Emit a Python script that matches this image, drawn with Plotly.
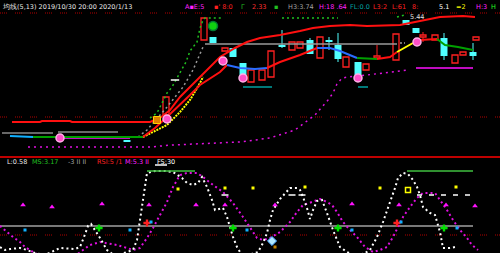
import plotly.graph_objects as go

# ================= TOP PANEL (price) =================
upper_x = [12, 40, 42, 70, 72, 150, 160, 170, 180, 190, 200, 210, 220, 235, 247, 260, 280, 300, 313, 330, 350, 367, 400, 410, 425, 440, 463, 475]
upper_v = [35, 35, 36, 36, 35, 35, 39, 47, 60, 70, 80, 91, 100, 109, 115, 119, 122, 126, 129, 131, 132, 131, 132, 134, 137, 140, 141, 140]

ma_x = [10, 33, 143, 155, 167, 180, 190, 200, 213, 220, 227, 240, 255, 267, 280, 300, 317, 330, 340, 357, 377, 390, 397, 413, 420, 437, 445, 458, 473]
ma_v = [21, 20, 20, 29, 40, 52, 62, 72, 80, 85, 92, 89, 88, 89, 95, 102, 109, 109, 106, 99, 98, 100, 105, 114, 117, 118, 112, 110, 107]
ma_breaks = [10, 33, 143, 227, 267, 317, 357, 377, 397, 413, 437, 473]
ma_colors = ["#10b0ff", "#00a000", "#ff1010", "#2a6cff", "#ff1010", "#2a6cff", "#00a000", "#ff1010", "#ffff00", "#ff1010", "#00a000"]

fast_x = [143, 155, 167, 180, 190, 200, 203]
fast_v = [20, 26, 32, 45, 57, 74, 80]

gray_rise_x = [138, 147, 167, 183, 193, 203]
gray_rise_v = [20, 27, 50, 70, 87, 110]
gray_flat_x = [205, 397]
gray_flat_v = [113, 113]
gray_end_x = [400, 405]
gray_end_v = [114, 114]
gray_left_x = [2, 53, None, 58, 118]
gray_left_v = [24, 24, None, 25, 25]

green_dot_x = [150, 157, 162, 167, 172, 177, 182, 186, 190, 197, 200, 203, 205, 223, None, 282, 338, None, 397, 405]
green_dot_v = [39, 44, 54, 64, 70, 79, 89, 95, 106, 115, 129, 137, 139, 139, None, 139, 139, None, 140, 142]

mag_line_x = [60, 130, None, 416, 473]
mag_line_v = [19, 19, None, 89, 89]
mag_dot_x = [28, 150, 172, 210, 240, 270, 295, 315, 328, 333, 337, 342, 348, 367, 393, 407]
mag_dot_v = [10, 10, 12, 14, 15, 19, 27, 42, 57, 64, 73, 79, 80, 82, 85, 87]

teal_x = [243, 272, None, 358, 368]
teal_v = [70, 70, None, 70, 70]

# down (cyan) candles
dn_x = [127, 213, 233, 243, 282, 310, 329, 338, 358, 406, 416, 444, 473]
dn_open = [17, 120, 109, 94, 112, 117, 117, 112, 95, 137, 129, 119, 105]
dn_close = [15, 114, 100, 80, 110, 103, 115, 98, 82, 132, 124, 101, 101]
dn_high = [17, 120, 109, 94, 127, 119, 120, 124, 95, 137, 129, 124, 114]
dn_low = [15, 114, 100, 80, 109, 103, 107, 95, 82, 132, 124, 97, 97]

# up (red hollow) candles
up_x = [166, 204, 225, 251, 262, 271, 292, 300, 320, 346, 366, 377, 396, 423, 435, 455, 463, 476]
up_open = [42, 117, 106, 75, 77, 80, 107, 109, 99, 90, 87, 99, 97, 120, 117, 94, 102, 117]
up_close = [60, 139, 109, 87, 87, 106, 115, 115, 120, 100, 93, 101, 123, 122, 122, 102, 105, 120]
up_high = [60, 139, 109, 87, 87, 106, 115, 115, 120, 100, 93, 112, 123, 125, 122, 102, 105, 120]
up_low = [42, 117, 106, 75, 77, 80, 107, 109, 99, 90, 87, 99, 97, 115, 117, 94, 102, 117]

pink_x = [60, 167, 223, 243, 358, 417]
pink_v = [19, 38, 96, 79, 79, 115]

# ================= BOTTOM PANEL (oscillator) =================
osc_w_x = [0, 5, 10, 20, 27, 35, 45, 60, 75, 80, 84, 88, 91, 95, 100, 107, 115, 133, 137, 140,
           143, 145, 147, 155, 165, 173, 182, 187, 193, 198, 202, 207, 212, 215, 220, 223, 227, 230, 233, 237,
           240, 245, 258, 263, 267, 270, 273, 280, 285, 290, 297, 300, 303, 307, 310, 313, 317, 322, 327, 333,
           340, 347, 355, 365, 370, 377, 383, 390, 395, 398, 403, 408, 413, 417, 420, 423, 430, 435, 440, 443,
           450, 455]
osc_w_v = [6, 3, 4, 5, 3, 0, -2, 5, 4, 6, 16, 27, 29, 23, 15, 3, -3, 3, 13, 33,
           53, 66, 80, 82, 82, 81, 75, 70, 68, 70, 76, 66, 53, 43, 44, 45, 36, 26, 16, 6,
           1, -3, 1, 10, 20, 33, 43, 54, 60, 65, 65, 63, 56, 45, 34, 43, 52, 53, 40, 23,
           6, 1, -3, 0, 3, 16, 31, 50, 65, 75, 80, 79, 73, 66, 58, 46, 40, 38, 21, 5,
           5, 6]

osc_m_x = [0, 7, 13, 20, 25, 33, 45, 60, 75, 83, 90, 100, 107, 117, 127, 133, 140, 147, 153, 160,
           167, 173, 180, 187, 197, 203, 213, 223, 233, 243, 250, 257, 263, 270, 280, 290, 297, 303, 312, 320,
           327, 332, 337, 343, 350, 357, 365, 373, 380, 387, 393, 398, 403, 410, 417, 423, 435, 440, 447, 453,
           460, 467, 472, 478]
osc_m_v = [27, 21, 16, 11, 6, 1, -5, -7, -3, 3, 8, 11, 10, 8, 5, 3, 5, 15, 25, 38,
           51, 66, 78, 80, 80, 76, 68, 61, 50, 36, 25, 15, 13, 15, 21, 31, 41, 48, 51, 54,
           51, 48, 41, 31, 23, 16, 6, 1, 3, 6, 16, 26, 36, 46, 55, 60, 60, 53, 43, 33,
           23, 15, 8, 3]

osc_mid_level = 27
osc_low_level = 18
green_top_x = [147, 195, None, 407, 473]
green_top_v = [82, 82, None, 82, 82]
white_dash_x = [417, 477]
white_dash_v = [58, 58]
white_tick_x = [225, 292, 302]
white_tick_v = [58, 58, 58]
white_short_x = [155, 167]
white_short_v = [88, 88]

gcross_x = [99, 233, 338, 444]
gcross_v = [25, 25, 25, 25]
rcross_x = [147, 397]
rcross_v = [30, 30]
cyan_pt_x = [25, 130, 151, 247, 352, 401, 457]
cyan_pt_v = [23, 23, 31, 23, 23, 31, 25]
mag_glyph_x = [23, 52, 102, 149, 196, 225, 275, 352, 399, 446, 475]
mag_glyph_v = [48, 46, 49, 48, 48, 48, 48, 49, 48, 48, 47]
yel_glyph_x = [178, 225, 253, 305, 380, 456]
yel_glyph_v = [64, 65, 65, 66, 65, 66]
yel_box_x = [408]
yel_box_v = [63]

DOTRED = "1px,1px,1px,1px,1px,1px,1px,8px"

fig = go.Figure()


def line(x, y, color, width=1.5, dash=None, ax="y", shape="linear"):
    fig.add_trace(go.Scatter(x=x, y=y, mode="lines", yaxis=ax, hoverinfo="skip",
                             line=dict(color=color, width=width, dash=dash, shape=shape)))


def pts(x, y, color, symbol="circle", size=5, ax="y", lc=None, lw=0):
    fig.add_trace(go.Scatter(x=x, y=y, mode="markers", yaxis=ax, hoverinfo="skip",
                             marker=dict(color=color, symbol=symbol, size=size,
                                         line=dict(color=lc or color, width=lw))))


# grid-like dark red dotted levels
line([0, 500], [144, 144], "#b00000", 1, DOTRED)
line([0, 500], [40, 40], "#b00000", 1, DOTRED)
line([0, 500], [osc_low_level, osc_low_level], "#b00000", 1, DOTRED, ax="y2")

# candles: wicks
wx, wy = [], []
for x, o, c, h, l in zip(up_x + dn_x, up_open + dn_open, up_close + dn_close, up_high + dn_high, up_low + dn_low):
    top, bot = max(o, c), min(o, c)
    wx += [x, x, None, x, x, None]
    wy += [h, top, None, bot, l, None]
line(wx[:len(up_x) * 6], wy[:len(up_x) * 6], "#ff2020", 1)
line(wx[len(up_x) * 6:], wy[len(up_x) * 6:], "#50ffff", 1)
# candle bodies
fig.add_trace(go.Bar(x=up_x, y=[c - o for o, c in zip(up_open, up_close)], base=up_open, width=6,
                     marker=dict(color="black", line=dict(color="#ff2020", width=1.3)), hoverinfo="skip"))
fig.add_trace(go.Bar(x=dn_x, y=[c - o for o, c in zip(dn_open, dn_close)], base=dn_open, width=7,
                     marker=dict(color="#50ffff", line=dict(color="#50ffff", width=0)), hoverinfo="skip"))

# gray lines
line(gray_left_x, gray_left_v, "#8a8a8a", 1.5)
line(gray_rise_x, gray_rise_v, "#9a9a9a", 1.5, "2px,3px")
line(gray_flat_x, gray_flat_v, "#9a9a9a", 1.5)
line(gray_end_x, gray_end_v, "#9a9a9a", 1.5, "2px,2px")
# green dotted
line(green_dot_x, green_dot_v, "#20c020", 1.5, "2px,3px")
# magenta
line(mag_line_x, mag_line_v, "#ff10ff", 1.5)
line(mag_dot_x, mag_dot_v, "#e010e0", 1.5, "2px,4px")
# teal
line(teal_x, teal_v, "#00a0a0", 1.5)
# upper band
line(upper_x, upper_v, "#ff1010", 2)
# fast MA (yellow dotted)
line(fast_x, fast_v, "#ffff00", 2, "2px,1px")
# multi-colour MA
for i, col in enumerate(ma_colors):
    a, b = ma_breaks[i], ma_breaks[i + 1]
    sx = [x for x in ma_x if a <= x <= b]
    sy = [v for x, v in zip(ma_x, ma_v) if a <= x <= b]
    line(sx, sy, col, 2)

# markers
pts(pink_x, pink_v, "#ff50c8", "circle", 8, lc="#ffb0e8", lw=1.5)
pts([157], [37], "#e08000", "square", 7, lc="#ffd000", lw=1)
pts([213], [131], "#10d010", "circle", 9, lc="#007a30", lw=1.5)
pts([175], [77], "white", "line-ew", 6, lw=1.5)

# bottom panel
line([0, 473], [osc_mid_level, osc_mid_level], "#a0a0a0", 1.5, ax="y2")
line(osc_m_x, osc_m_v, "#e010e0", 2, "2px,3px", ax="y2")
line(osc_w_x, osc_w_v, "#ffffff", 2, "2px,3px", ax="y2")
line(green_top_x, green_top_v, "#40c040", 1.5, ax="y2")
line(white_dash_x, white_dash_v, "#ffffff", 1.5, "5px,7px", ax="y2")
line(white_short_x, white_short_v, "#ffffff", 1.5, ax="y2")
pts(white_tick_x, white_tick_v, "white", "line-ew", 5, ax="y2", lw=1.5)
pts(gcross_x, gcross_v, "#00e000", "cross", 6, ax="y2")
pts(rcross_x, rcross_v, "#ff2020", "cross", 6, ax="y2")
pts(cyan_pt_x, cyan_pt_v, "#10b0ff", "square", 3, ax="y2")
pts(mag_glyph_x, mag_glyph_v, "#ff10ff", "triangle-up", 5, ax="y2")
pts(yel_glyph_x, yel_glyph_v, "#ffff00", "square", 3, ax="y2")
pts(yel_box_x, yel_box_v, "#ffff00", "square-open", 5, ax="y2", lw=1.5)
pts([272], [12], "#b0e8ff", "diamond", 7, ax="y2", lc="#40a0ff", lw=1)
pts([275], [6], "#c08000", "square", 3, ax="y2")

# ---------- texts ----------
H = 253.0
top_row = [
    (0, "#e8e8e8", "均线(5,13) 2019/10/30 20:00 2020/1/13"),
    (183, "#ff20ff", "A▪E:5"),
    (212, "#ff2020", "▪' 8:0"),
    (239, "#20c020", "Γ"),
    (250, "#ff3030", "2.33"),
    (272, "#20c020", "▪"),
    (286, "#a0a0a0", "H3:3.74"),
    (317, "#ff20ff", "H:18 .64"),
    (348, "#00a0a0", "FL:0.0"),
    (371, "#ff2020", "L3:2"),
    (390, "#ff2020", "L:61"),
    (410, "#ff2020", "8:"),
    (437, "#ffffff", "5.1"),
    (454, "#ffff00", "=2"),
    (474, "#ff20ff", "H:3"),
    (489, "#20ff20", "H"),
]
low_row = [
    (5, "#e8e8e8", "L:0.58"),
    (30, "#20c020", "MS:3.17"),
    (66, "#a0a0a0", "-3 II II"),
    (95, "#ff2020", "RSI:5 /1"),
    (123, "#ff20ff", "M:5.3 II"),
    (155, "#ffffff", "FS:30"),
]
ann = []
for x, c, t in top_row:
    ann.append(dict(x=x, y=1 - 7 / H, xref="x", yref="paper", text=t, showarrow=False,
                    xanchor="left", yanchor="middle", font=dict(color=c, size=6.5, family="DejaVu Sans")))
for x, c, t in low_row:
    ann.append(dict(x=x, y=1 - 162 / H, xref="x", yref="paper", text=t, showarrow=False,
                    xanchor="left", yanchor="middle", font=dict(color=c, size=6.5, family="DejaVu Sans")))
ann.append(dict(x=408, y=1 - 17 / H, xref="x", yref="paper", text="5.44", showarrow=False,
                xanchor="left", yanchor="middle", font=dict(color="#e0e0e0", size=6.5, family="DejaVu Sans")))

split = 1 - 157 / H
fig.update_layout(
    width=500, height=253, margin=dict(l=0, r=0, t=0, b=0),
    paper_bgcolor="black", plot_bgcolor="black", showlegend=False, barmode="overlay",
    xaxis=dict(range=[0, 500], visible=False, fixedrange=True),
    yaxis=dict(range=[0, 157], domain=[split, 1], visible=False, fixedrange=True),
    yaxis2=dict(range=[0, 96], domain=[0, split], visible=False, anchor="x", fixedrange=True),
    annotations=ann,
    shapes=[dict(type="line", xref="paper", yref="paper", x0=0, x1=1, y0=split, y1=split,
                 line=dict(color="#ff0000", width=1.5))],
)
fig.write_html("out.html", config={"displayModeBar": False})
